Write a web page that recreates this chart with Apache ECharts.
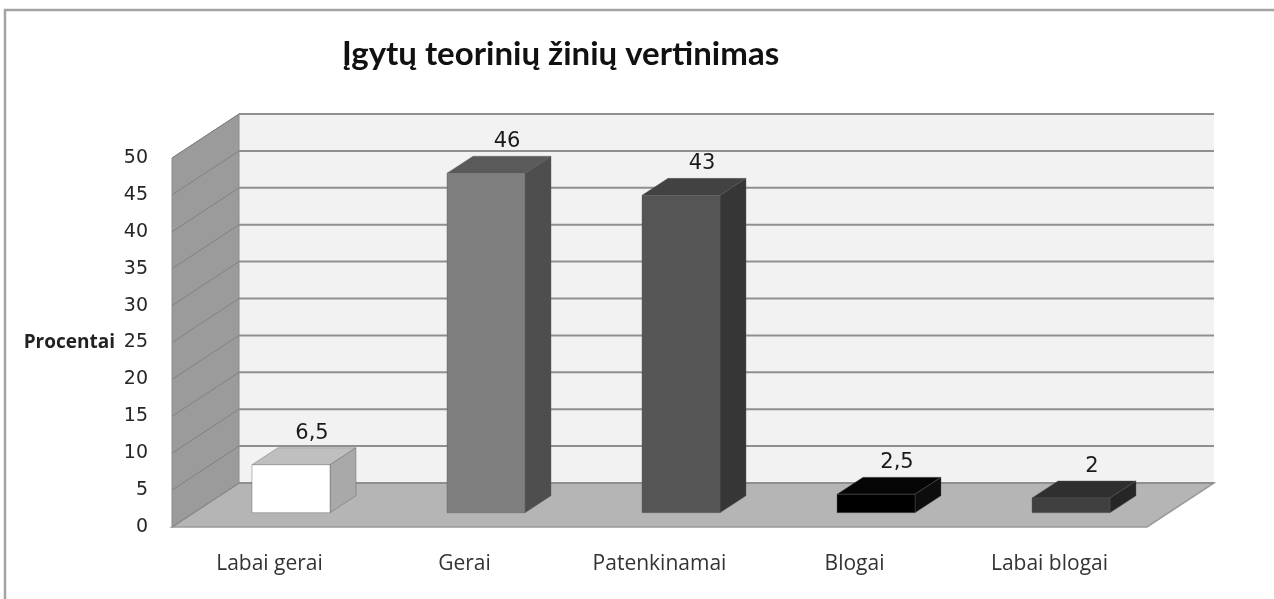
<!DOCTYPE html>
<html>
<head>
<meta charset="utf-8">
<script src="https://cdn.jsdelivr.net/npm/echarts@6/dist/echarts.min.js"></script>
<style>
html,body{margin:0;padding:0;background:#ffffff;}
#chart{width:1274px;height:599px;}
</style>
</head>
<body>
<div id="chart"></div>
<script>
// ---- data ----
const titleText = 'Įgytų teorinių žinių vertinimas';
const yAxisName = 'Procentai';
const categories = ['Labai gerai', 'Gerai', 'Patenkinamai', 'Blogai', 'Labai blogai'];
const values = [6.5, 46, 43, 2.5, 2];
const yMin = 0, yMax = 50, yStep = 5;
const gridTicks = [0, 5, 10, 15, 20, 25, 30, 35, 40, 45, 50];

// ---- styles ----
const frontColors = ['#ffffff', '#7f7f7f', '#555555', '#000000', '#404040'];
const topColors   = ['#bfbfbf', '#5a5a5a', '#424242', '#050505', '#2f2f2f'];
const sideColors  = ['#a9a9a9', '#4e4e4e', '#363636', '#0d0d0d', '#262626'];
const DEPTH = [67, -44];        // full wall depth
const BAR_OFF = [21.5, -14.3];  // front face of bars inside the box
const BAR_DEPTH = [26, -17];

const fmt = v => String(v).replace('.', ',');

const chart = echarts.init(document.getElementById('chart'), null, {renderer: 'canvas'});

const option = {
  backgroundColor: '#ffffff',
  animation: false,
  title: {
    text: titleText,
    left: 337, top: 33,
    textStyle: {fontFamily: 'Lato', fontWeight: 'bold', fontSize: 33, color: '#111111'}
  },
  graphic: [{
    type: 'rect', silent: true, z: -10,
    shape: {x: 5, y: 10, width: 1400, height: 700},
    style: {fill: 'none', stroke: '#a3a3a3', lineWidth: 2.5}
  }],
  grid: {left: 172, top: 158, width: 975, height: 369},
  xAxis: {
    type: 'category', data: categories,
    axisLine: {show: false}, axisTick: {show: false},
    axisLabel: {margin: 27, fontFamily: 'Open Sans', fontSize: 21, color: '#333333'}
  },
  yAxis: {
    type: 'value', min: yMin, max: yMax, interval: yStep,
    name: yAxisName, nameLocation: 'middle', nameRotate: 0, nameGap: 57,
    nameTextStyle: {fontFamily: 'Open Sans', fontWeight: 'bold', fontSize: 19, color: '#222222', align: 'right', verticalAlign: 'middle'},
    axisLine: {show: false}, axisTick: {show: false}, splitLine: {show: false},
    axisLabel: {margin: 24, fontFamily: 'DejaVu Sans', fontSize: 19, color: '#262626'}
  },
  series: [
    {
      // walls and floor
      type: 'custom', z: 1, clip: false, silent: true,
      data: [[0, yMin]],
      renderItem: function (params, api) {
        const cs = params.coordSys;
        const x0 = cs.x, x1 = cs.x + cs.width;
        const yb = api.coord([0, yMin])[1], yt = api.coord([0, yMax])[1];
        const dx = DEPTH[0], dy = DEPTH[1];
        return {type: 'group', children: [
          {type: 'polygon', shape: {points: [[x0 + dx, yt + dy], [x1 + dx, yt + dy], [x1 + dx, yb + dy], [x0 + dx, yb + dy]]},
           style: {fill: '#f2f2f2', stroke: null}},
          {type: 'polygon', shape: {points: [[x0, yt], [x0 + dx, yt + dy], [x0 + dx, yb + dy], [x0, yb]]},
           style: {fill: '#9b9b9b', stroke: '#8a8a8a', lineWidth: 1}},
          {type: 'polygon', shape: {points: [[x0, yb], [x0 + dx, yb + dy], [x1 + dx, yb + dy], [x1, yb]]},
           style: {fill: '#b5b5b5', stroke: '#9a9a9a', lineWidth: 1.5}}
        ]};
      }
    },
    {
      // grid lines on back wall and left wall
      type: 'custom', z: 2, clip: false, silent: true,
      data: gridTicks.map(v => [0, v]),
      renderItem: function (params, api) {
        const cs = params.coordSys;
        const x0 = cs.x, x1 = cs.x + cs.width;
        const y = api.coord([0, api.value(1)])[1];
        const dx = DEPTH[0], dy = DEPTH[1];
        return {type: 'group', children: [
          {type: 'line', shape: {x1: x0 + dx, y1: y + dy, x2: x1 + dx, y2: y + dy},
           style: {stroke: '#8f8f8f', lineWidth: 2}},
          {type: 'line', shape: {x1: x0, y1: y, x2: x0 + dx, y2: y + dy},
           style: {stroke: '#828282', lineWidth: 1}}
        ]};
      }
    },
    {
      // 3D bars
      type: 'custom', z: 3, clip: false,
      data: values.map((v, i) => [i, v]),
      encode: {x: 0, y: 1},
      renderItem: function (params, api) {
        const i = params.dataIndex;
        const top = api.coord([api.value(0), api.value(1)]);
        const base = api.coord([api.value(0), yMin]);
        const bw = api.size([1, 0])[0];
        const w = bw * 0.4;
        const l = top[0] + BAR_OFF[0] - w / 2, r = l + w;
        const ty = top[1] + BAR_OFF[1], by = base[1] + BAR_OFF[1];
        const dx = BAR_DEPTH[0], dy = BAR_DEPTH[1];
        return {type: 'group', children: [
          {type: 'polygon', shape: {points: [[l, ty], [r, ty], [r + dx, ty + dy], [l + dx, ty + dy]]},
           style: {fill: topColors[i], stroke: 'rgba(90,90,90,0.5)', lineWidth: 0.8}},
          {type: 'polygon', shape: {points: [[r, ty], [r + dx, ty + dy], [r + dx, by + dy], [r, by]]},
           style: {fill: sideColors[i], stroke: 'rgba(90,90,90,0.5)', lineWidth: 0.8}},
          {type: 'rect', shape: {x: l, y: ty, width: w, height: by - ty},
           style: {fill: frontColors[i], stroke: 'rgba(90,90,90,0.5)', lineWidth: 0.8}},
          {type: 'text', x: top[0] + BAR_OFF[0] + 21, y: ty + dy - 4,
           style: {text: fmt(api.value(1)), fontFamily: 'DejaVu Sans', fontSize: 21, fill: '#1a1a1a',
                   align: 'center', verticalAlign: 'bottom'}}
        ]};
      }
    }
  ]
};
chart.setOption(option);
</script>
</body>
</html>
